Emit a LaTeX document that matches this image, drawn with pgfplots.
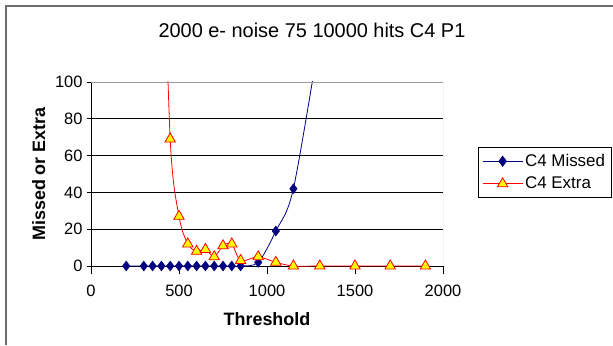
\documentclass[border=0pt]{standalone}
\usepackage{pgfplots}
\pgfplotsset{compat=1.18}
\usepackage{fontspec}
\setmainfont{Liberation Sans}
\definecolor{navyb}{RGB}{0,0,128}
\definecolor{frame}{RGB}{110,110,110}
\definecolor{ylw}{RGB}{255,255,0}
\begin{document}
\begin{tikzpicture}[x=1bp,y=1bp]
\draw[line width=2bp, frame] (6,0) -- (6,339) -- (613,339);
\node[font=\fontsize{20}{22}\selectfont] at (312,315) {2000 e- noise 75 10000 hits C4 P1};
\begin{axis}[
  at={(91bp,79bp)}, anchor=south west,
  scale only axis, width=352bp, height=184bp,
  xmin=0, xmax=2000, ymin=0, ymax=100,
  axis x line=bottom, axis y line=left,
  axis line style={-, black, line width=0.8bp},
  xtick={0,500,...,2000}, ytick={0,20,...,100},
  ymajorgrids, grid style={black, line width=0.8bp},
  x tick style={black, line width=0.8bp},
  y tick style={black, line width=0.8bp},
  xtick align=outside, ytick align=center,
  major tick length=8bp,
  /pgf/number format/assume math mode=true,
  /pgf/number format/1000 sep={},
  tick label style={font=\fontsize{16.5}{18}\selectfont},
  yticklabel style={xshift=-1bp},
  xticklabel style={yshift=-7bp},
  xlabel={\textbf{Threshold}}, ylabel={\textbf{Missed or Extra}},
  label style={font=\fontsize{18}{20}\selectfont},
  xlabel style={yshift=-10bp},
  ylabel style={yshift=3bp},
  legend style={at={(1.099,0.647)}, anchor=north west, draw=black, line width=0.8bp,
    font=\fontsize{17}{19}\selectfont, inner xsep=4bp, inner ysep=5bp, row sep=5bp,
    nodes={inner sep=2bp}},
  legend cell align=left,
  legend image code/.code={
    \draw[#1, mark=none] (0bp,0bp) -- (40bp,0bp);
    \draw[#1, only marks] plot coordinates {(20bp,0bp)};
  },
]
\addplot[navyb, line width=0.8bp, smooth, forget plot] coordinates {
(200,0) (300,0) (350,0) (400,0) (450,0) (500,0) (550,0) (600,0) (650,0) (700,0)
(750,0) (800,0) (850,0) (950,2) (1050,19) (1150,42) (1300,125)
};
\addplot[red, line width=0.8bp, smooth, forget plot] coordinates {
(400,220) (450,69) (500,27) (550,12) (600,8) (650,9) (700,5) (750,11) (800,12)
(850,3) (950,5) (1050,2) (1150,0) (1300,0) (1500,0) (1700,0) (1900,0)
};
\addplot[only marks, mark=diamond*, mark size=5bp, navyb, fill=navyb, forget plot] coordinates {
(200,0) (300,0) (350,0) (400,0) (450,0) (500,0) (550,0) (600,0) (650,0) (700,0)
(750,0) (800,0) (850,0) (950,2) (1050,19) (1150,42)
};
\addplot[only marks, mark=triangle*, mark size=6bp, draw=red, fill=ylw, line width=0.8bp, forget plot] coordinates {
(450,69) (500,27) (550,12) (600,8) (650,9) (700,5) (750,11) (800,12)
(850,3) (950,5) (1050,2) (1150,0) (1300,0) (1500,0) (1700,0) (1900,0)
};
\addlegendimage{navyb, line width=0.8bp, mark=diamond*, mark size=5bp, mark options={fill=navyb}}
\addlegendentry{C4 Missed}
\addlegendimage{red, line width=0.8bp, mark=triangle*, mark size=6bp, mark options={fill=ylw, draw=red}}
\addlegendentry{C4 Extra}
\draw[frame!70, line width=0.8bp] (rel axis cs:0,1) -- (rel axis cs:1,1) -- (rel axis cs:1,0);
\end{axis}
\pgfresetboundingbox
\useasboundingbox (0,0) rectangle (613,345);
\end{tikzpicture}
\end{document}
